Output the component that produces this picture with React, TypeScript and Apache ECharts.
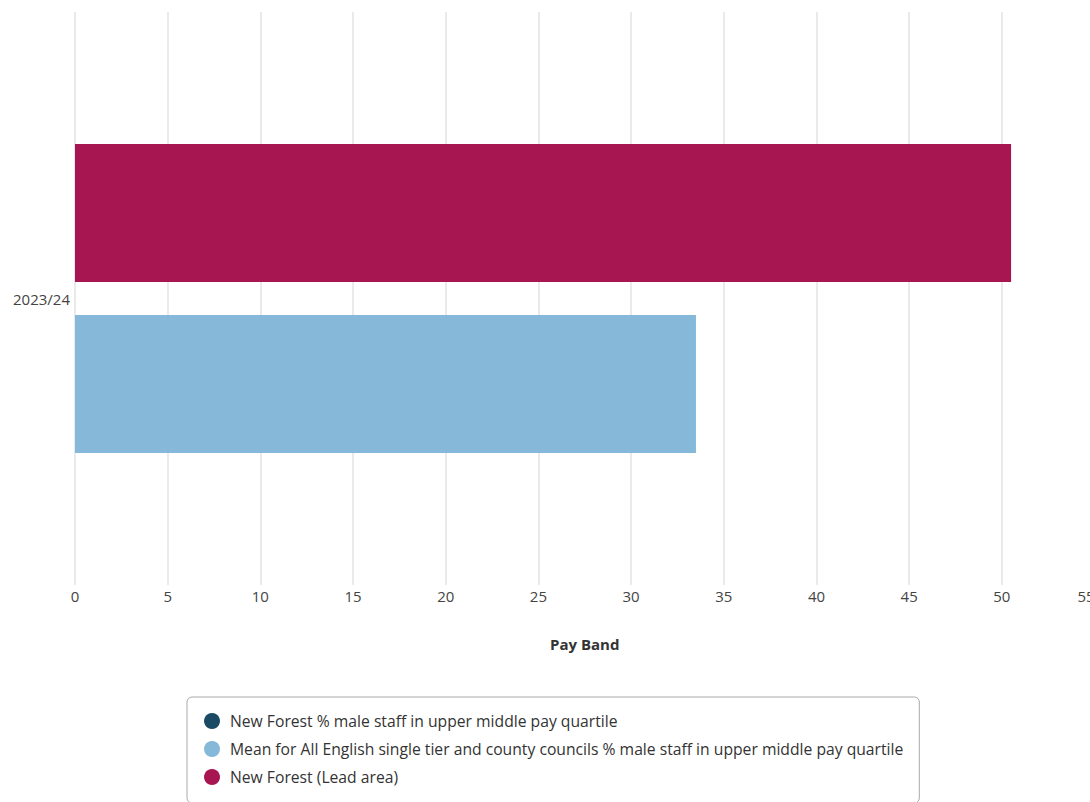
import React, { useEffect, useRef } from "react";
import * as echarts from "echarts";

const categories = ["2023/24"];
const seriesNames = [
  "New Forest % male staff in upper middle pay quartile",
  "Mean for All English single tier and county councils % male staff in upper middle pay quartile",
  "New Forest (Lead area)",
];
const meanValues = [33.5];
const leadValues = [50.5];
const colors = ["#1b4a64", "#86b9d9", "#a81651"];
const xTickMin = 0;
const xTickMax = 55;
const xTickStep = 5;

export default function App() {
  const ref = useRef<HTMLDivElement>(null);
  useEffect(() => {
    if (!ref.current) return;
    const chart = echarts.init(ref.current, null, { renderer: "svg" });
    const font = "'Open Sans', 'Noto Sans', sans-serif";
    chart.setOption({
      animation: false,
      textStyle: { fontFamily: font },
      grid: { left: 75, top: 12, width: 1019.5, height: 573, containLabel: false },
      xAxis: {
        type: "value",
        min: xTickMin,
        max: xTickMax,
        interval: xTickStep,
        axisLine: { show: false },
        axisTick: { show: false },
        splitLine: { lineStyle: { color: "#e3e3e3", width: 1.5 } },
        axisLabel: {
          fontSize: 15,
          color: "#444",
          margin: 3,
          fontFamily: font,
          formatter: (v: number) => (v === xTickMax ? "{e|" + v + "}" : String(v)),
          rich: { e: { fontSize: 15, color: "#444", fontFamily: font, padding: [0, 17, 0, 0] } },
        },
        name: "Pay Band",
        nameLocation: "middle",
        nameGap: 51,
        nameTextStyle: { fontSize: 15, fontWeight: "bold", color: "#333", fontFamily: font },
      },
      yAxis: {
        type: "category",
        data: categories,
        axisLine: { show: false },
        axisTick: { show: false },
        axisLabel: { fontSize: 15, color: "#444", margin: 5, fontFamily: font },
      },
      legend: {
        orient: "vertical",
        left: 187,
        top: 697,
        icon: "circle",
        itemWidth: 16,
        itemHeight: 16,
        itemGap: 12,
        padding: [16, 16, 18, 17],
        borderColor: "#aaa",
        borderWidth: 1,
        borderRadius: 5,
        data: seriesNames,
        textStyle: { fontSize: 15.7, color: "#333", fontFamily: font, padding: [0, 0, 0, 5] },
      },
      series: [
        {
          name: seriesNames[0],
          type: "scatter",
          data: [],
          itemStyle: { color: colors[0], opacity: 1 },
        },
        {
          name: seriesNames[2],
          type: "bar",
          data: leadValues,
          barWidth: 138,
          barGap: "24%",
          itemStyle: { color: colors[2] },
        },
        {
          name: seriesNames[1],
          type: "bar",
          data: meanValues,
          barWidth: 138,
          barGap: "24%",
          itemStyle: { color: colors[1] },
        },
      ],
    });
    return () => chart.dispose();
  }, []);
  return (
    <div style={{ position: "fixed", left: 0, top: 0, width: 1090, height: 802, overflow: "hidden", background: "#fff" }}>
      <div ref={ref} style={{ width: 1130, height: 840 }} />
    </div>
  );
}
